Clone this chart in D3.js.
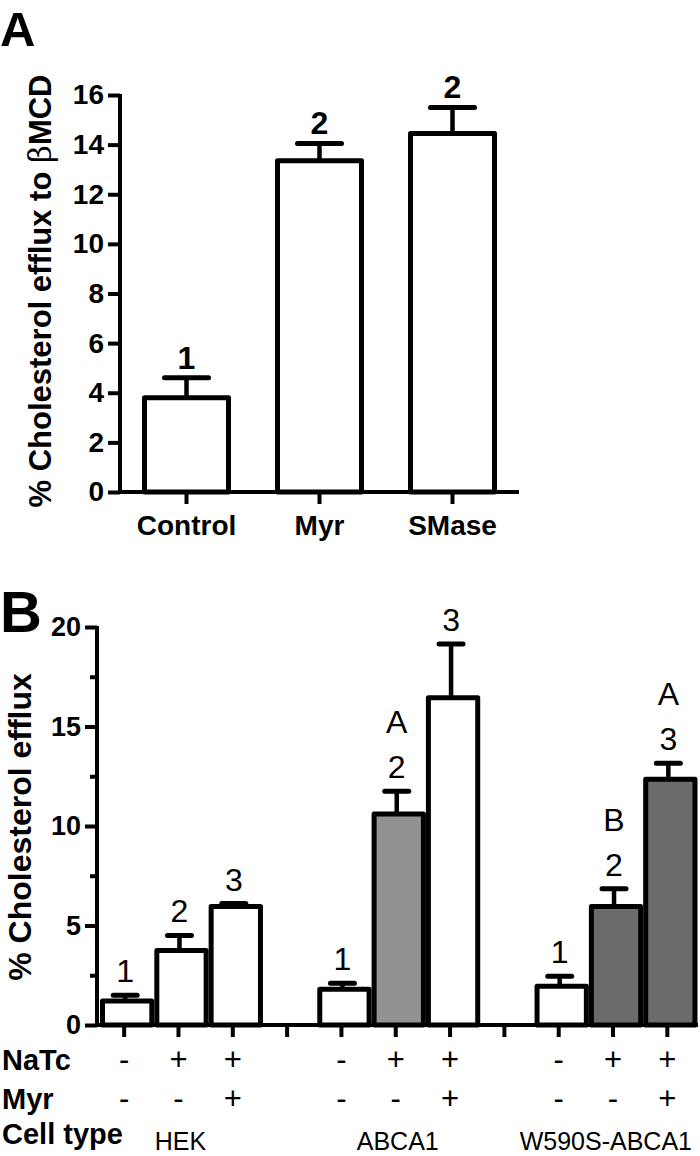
<!DOCTYPE html>
<html>
<head>
<meta charset="utf-8">
<script src="https://cdn.jsdelivr.net/npm/d3@7"></script>
<style>
  html, body { margin: 0; padding: 0; background: #fff; }
  svg { display: block; }
  text { font-family: "Liberation Sans", Arial, Helvetica, sans-serif; fill: #000; }
</style>
</head>
<body>
<svg id="chart" width="700" height="1156"></svg>
<script>
// ---------- Panel A data ----------
const categoriesA = ["Control", "Myr", "SMase"];
const meansA = [3.8, 13.35, 14.45];
const errorsA = [0.8, 0.7, 1.05];
const groupLabelsA = ["1", "2", "2"];
const yTicksA = [0, 2, 4, 6, 8, 10, 12, 14, 16];

// ---------- Panel B data ----------
const cellTypesB = ["HEK", "ABCA1", "W590S-ABCA1"];
const natcB = ["-", "+", "+"];
const myrB = ["-", "-", "+"];
const meansB = [1.2, 3.75, 5.95, 1.8, 10.6, 16.45, 1.95, 5.95, 12.35];
const errorsB = [0.3, 0.75, 0.15, 0.3, 1.15, 2.7, 0.5, 0.9, 0.8];
const groupLabelsB = [["1"], ["2"], ["3"], ["1"], ["2", "A"], ["3"], ["1"], ["2", "B"], ["3", "A"]];
const yMajorTicksB = [0, 5, 10, 15, 20];
const yMinorTicksB = [2.5, 7.5, 12.5, 17.5];

// styles (kept separate from data)
const fillsB = ["#ffffff", "#ffffff", "#ffffff", "#ffffff", "#929292", "#ffffff", "#ffffff", "#6b6b6b", "#6b6b6b"];

const svg = d3.select("#chart");
const BOLD = "bold";

// ===================== PANEL A =====================
const xA = d3.scaleBand().domain(categoriesA).range([120, 519]).padding(0);
const yA = d3.scaleLinear().domain([0, 16]).range([492, 95]);
const gA = svg.append("g");

const swA = 5;
const barOuterA = 89;
gA.selectAll("rect.barA").data(categoriesA).join("rect")
  .attr("class", "barA")
  .attr("x", d => xA(d) + xA.bandwidth() / 2 - barOuterA / 2 + swA / 2)
  .attr("width", barOuterA - swA)
  .attr("y", (d, i) => yA(meansA[i]))
  .attr("height", (d, i) => yA(0) - yA(meansA[i]))
  .attr("fill", "#fff").attr("stroke", "#000").attr("stroke-width", swA)
  .attr("stroke-linejoin", "round");

categoriesA.forEach((c, i) => {
  const cx = xA(c) + xA.bandwidth() / 2;
  gA.append("line").attr("x1", cx).attr("x2", cx)
    .attr("y1", yA(meansA[i])).attr("y2", yA(meansA[i] + errorsA[i]))
    .attr("stroke", "#000").attr("stroke-width", 4.5);
  gA.append("line").attr("x1", cx - 22).attr("x2", cx + 22)
    .attr("y1", yA(meansA[i] + errorsA[i])).attr("y2", yA(meansA[i] + errorsA[i]))
    .attr("stroke", "#000").attr("stroke-width", 5).attr("stroke-linecap", "round");
  gA.append("text").attr("x", cx).attr("y", yA(meansA[i] + errorsA[i]) - 9)
    .attr("text-anchor", "middle").attr("font-size", 32).attr("font-weight", BOLD)
    .text(groupLabelsA[i]);
});

const yAxisA = d3.axisLeft(yA).tickValues(yTicksA).tickSize(12).tickSizeOuter(0).tickPadding(4);
const gyA = gA.append("g").attr("transform", "translate(120,0)").call(yAxisA);
gyA.select(".domain").attr("stroke-width", 4).attr("d", `M0,${yA(16) - 1}V${yA(0) + 2}`);
gyA.selectAll(".tick line").attr("stroke-width", 4);
gyA.selectAll(".tick text").attr("font-size", 28).attr("font-weight", BOLD)
  .attr("font-family", "'Liberation Sans', Arial, sans-serif").attr("fill", "#000");

const xAxisA = d3.axisBottom(xA).tickSize(12).tickSizeOuter(0).tickPadding(6);
const gxA = gA.append("g").attr("transform", `translate(0,${yA(0)})`).call(xAxisA);
gxA.select(".domain").attr("stroke-width", 4).attr("d", `M118,0H519`);
gxA.selectAll(".tick line").attr("stroke-width", 4);
gxA.selectAll(".tick text").attr("font-size", 28).attr("font-weight", BOLD)
  .attr("font-family", "'Liberation Sans', Arial, sans-serif").attr("fill", "#000")
  .attr("dy", "0.9em");

const tA = gA.append("text")
  .attr("transform", "translate(51,291) rotate(-90)")
  .attr("text-anchor", "middle").attr("font-size", 31).attr("font-weight", BOLD);
tA.append("tspan").text("% Cholesterol efflux to ");
tA.append("tspan").attr("font-weight", "normal").attr("font-family", "'DejaVu Serif', serif").text(" β");
tA.append("tspan").text("MCD");

svg.append("text").attr("x", 0).attr("y", 46).attr("font-size", 49).attr("font-weight", BOLD).text("A");

// ===================== PANEL B =====================
const slotsB = [];
const barSlotsB = [];
cellTypesB.forEach((ct, gi) => {
  [0, 1, 2].forEach(k => { slotsB.push(ct + "|" + k); barSlotsB.push(ct + "|" + k); });
  if (gi < cellTypesB.length - 1) slotsB.push("gap" + gi);
});

const xB = d3.scaleBand().domain(slotsB).range([97, 694.5]).padding(0);
const yB = d3.scaleLinear().domain([0, 20]).range([1025, 627]);
const gB = svg.append("g");
const swB = 5;

gB.selectAll("rect.barB").data(barSlotsB).join("rect")
  .attr("class", "barB")
  .attr("x", d => xB(d) + 3 + swB / 2)
  .attr("width", xB.bandwidth() - swB)
  .attr("y", (d, i) => yB(meansB[i]))
  .attr("height", (d, i) => yB(0) - yB(meansB[i]))
  .attr("fill", (d, i) => fillsB[i]).attr("stroke", "#000").attr("stroke-width", swB)
  .attr("stroke-linejoin", "round");

barSlotsB.forEach((s, i) => {
  const cx = xB(s) + xB.bandwidth() / 2 + 1;
  const top = yB(meansB[i] + errorsB[i]);
  gB.append("line").attr("x1", cx).attr("x2", cx)
    .attr("y1", yB(meansB[i])).attr("y2", top)
    .attr("stroke", "#000").attr("stroke-width", 4.5);
  gB.append("line").attr("x1", cx - 12).attr("x2", cx + 12)
    .attr("y1", top).attr("y2", top)
    .attr("stroke", "#000").attr("stroke-width", 5).attr("stroke-linecap", "round");
  groupLabelsB[i].forEach((lab, j) => {
    gB.append("text").attr("x", cx).attr("y", top - 13 - j * 45)
      .attr("text-anchor", "middle").attr("font-size", 32).text(lab);
  });
});

const gyB = gB.append("g").attr("transform", "translate(97,0)");
gyB.call(d3.axisLeft(yB).tickValues(yMajorTicksB).tickSize(12).tickSizeOuter(0).tickPadding(4));
gyB.append("g").call(d3.axisLeft(yB).tickValues(yMinorTicksB).tickSize(7).tickFormat(""))
  .select(".domain").remove();
gyB.select(".domain").attr("stroke-width", 4).attr("d", `M0,${yB(20) - 1}V${yB(0) + 2}`);
gyB.selectAll(".tick line").attr("stroke-width", 4);
gyB.selectAll(".tick text").attr("font-size", 27).attr("font-weight", BOLD)
  .attr("font-family", "'Liberation Sans', Arial, sans-serif").attr("fill", "#000");

const gxB = gB.append("g").attr("transform", `translate(0,${yB(0)})`)
  .call(d3.axisBottom(xB).tickSize(12).tickSizeOuter(0).tickFormat(""));
gxB.select(".domain").attr("stroke-width", 4).attr("d", `M95,0H698`);
gxB.selectAll(".tick line").attr("stroke-width", 4);

// condition rows
const rowY = { natc: 1070, myr: 1109, cell: 1144 };
[["NaTc", rowY.natc], ["Myr", rowY.myr], ["Cell type", rowY.cell]].forEach(([t, y]) => {
  gB.append("text").attr("x", 2).attr("y", y).attr("font-size", 29).attr("font-weight", BOLD).text(t);
});
cellTypesB.forEach((ct, gi) => {
  [0, 1, 2].forEach(k => {
    const cx = xB(ct + "|" + k) + xB.bandwidth() / 2;
    gB.append("text").attr("x", cx).attr("y", rowY.natc).attr("text-anchor", "middle")
      .attr("font-size", 31).text(natcB[k]);
    gB.append("text").attr("x", cx).attr("y", rowY.myr).attr("text-anchor", "middle")
      .attr("font-size", 31).text(myrB[k]);
  });
  const mid = xB(ct + "|1") + xB.bandwidth() / 2;
  const t = gB.append("text").attr("x", mid + 2).attr("y", 1150).attr("text-anchor", "middle")
    .attr("font-size", 25).text(ct);
  const w = t.node().getComputedTextLength();
  if (mid + w / 2 > 692) t.attr("x", 692 - w / 2);
});

gB.append("text").attr("transform", "translate(31,827) rotate(-90)")
  .attr("text-anchor", "middle").attr("font-size", 32).attr("font-weight", BOLD)
  .text("% Cholesterol efflux");

svg.append("text").attr("x", 0).attr("y", 632).attr("font-size", 58).attr("font-weight", BOLD).text("B");
</script>
</body>
</html>
